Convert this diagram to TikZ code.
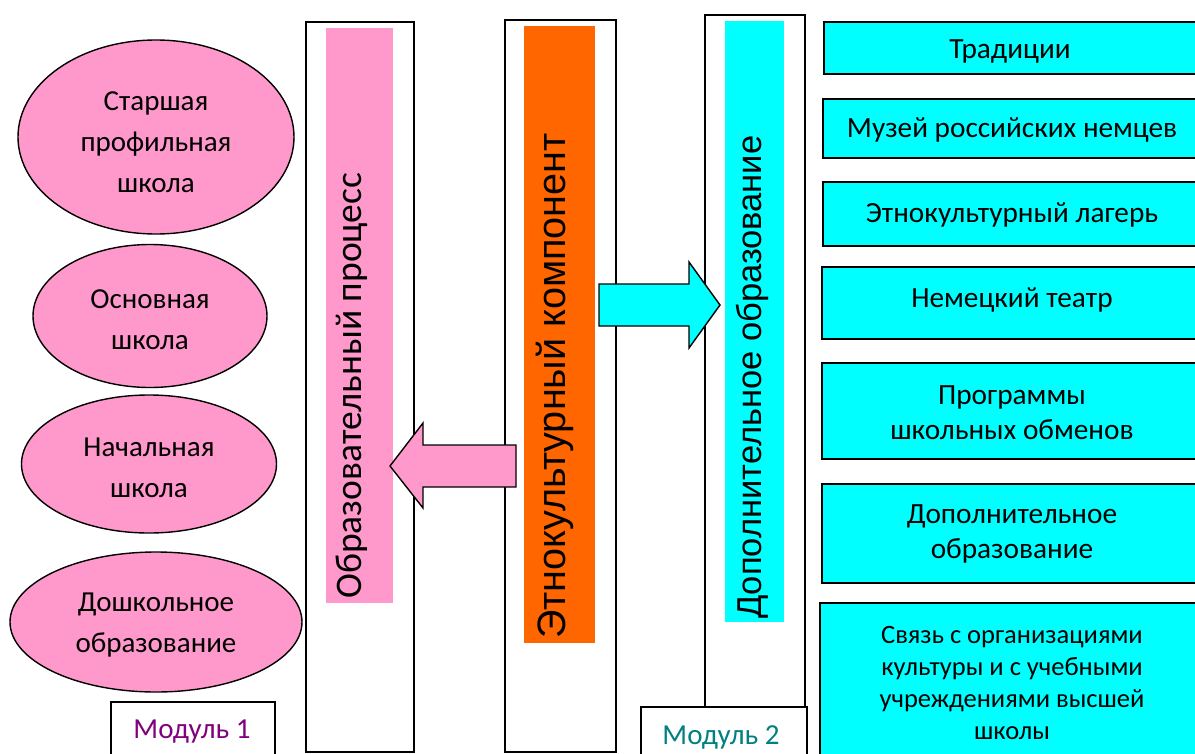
\documentclass[tikz,border=0pt]{standalone}
\usepackage{fontspec}
\setmainfont{Carlito}
\newfontfamily\arialf{Liberation Sans}
\usetikzlibrary{shapes.geometric}
\definecolor{pinkc}{HTML}{FF99CC}
\definecolor{orangec}{HTML}{FF6600}
\definecolor{cyanc}{HTML}{00FFFF}
\definecolor{purplec}{HTML}{800080}
\definecolor{tealc}{HTML}{008080}
\tikzset{
  ell/.style={ellipse, draw=black, line width=1.4pt, fill=pinkc, inner sep=0pt, align=center},
  elltext/.style={align=center, font=\fontsize{29}{41}\selectfont},
  frame/.style={rectangle, draw=black, line width=1.6pt, fill=white, anchor=north west, inner sep=0pt},
  bar/.style={rectangle, anchor=north west, inner sep=0pt},
  vtext/.style={rotate=90, anchor=west, inner sep=0pt},
  itembox/.style={rectangle, draw=black, line width=1.6pt, fill=cyanc, anchor=north west, inner sep=0pt},
  itemtext/.style={align=center, font=\fontsize{29.3}{35}\selectfont},
  modbox/.style={rectangle, draw=black, line width=1.6pt, fill=white, anchor=north west, inner sep=0pt},
  blockarrow/.style={draw=black, line width=1.4pt, line join=miter}
}
\begin{document}
\begin{tikzpicture}[x=1pt,y=-1pt]
\useasboundingbox (0,0) rectangle (1195,753);
\fill[white] (0,0) rectangle (1195,753);
\clip (0,0) rectangle (1195,753);

% ellipses (module 1)
\node[ell, minimum width=276, minimum height=194] (e1) at (156,137) {};
\node[elltext] (e1t) at (156,142) {Старшая\\профильная\\школа};
\node[ell, minimum width=234, minimum height=143] (e2) at (150,316) {};
\node[elltext] (e2t) at (150,320) {Основная\\школа};
\node[ell, minimum width=255, minimum height=138] (e3) at (149,464) {};
\node[elltext] (e3t) at (149,468) {Начальная\\школа};
\node[ell, minimum width=292, minimum height=140] (e4) at (156,622) {};
\node[elltext] (e4t) at (156,625) {Дошкольное\\образование};

% module labels
\node[modbox, minimum width=164, minimum height=70] (m1) at (110,701) {};
\node[text=purplec, font=\fontsize{29}{34}\selectfont] (m1t) at (192,732) {Модуль 1};

% frames
\node[frame, minimum width=108, minimum height=730] (f1) at (305,21) {};
\node[frame, minimum width=111, minimum height=732] (f2) at (504,19) {};
\node[frame, minimum width=100, minimum height=760] (f3) at (704,14) {};

% coloured bars
\node[bar, fill=pinkc, minimum width=67, minimum height=575] (b1) at (326,28) {};
\node[bar, fill=orangec, minimum width=71, minimum height=617] (b2) at (524,26) {};
\node[bar, fill=cyanc, minimum width=59, minimum height=601] (b3) at (725,21) {};

\node[vtext, font=\fontsize{37.5}{40}\selectfont] (t1) at (352,599) {Образовательный процесс};
\node[vtext, font=\arialf\fontsize{39.6}{42}\selectfont] (t2) at (555,639) {Этнокультурный компонент};
\node[vtext, font=\arialf\fontsize{34.5}{38}\selectfont] (t3) at (752,619) {Дополнительное образование};

% block arrows
\coordinate (la) at (516,466);
\coordinate (ra) at (599,305);
\draw[blockarrow, fill=pinkc] (la) ++(0,-21) -- ++(-93,0) -- ++(0,-22) -- ++(-33,43) -- ++(33,42) -- ++(0,-21) -- ++(93,0) -- cycle;
\draw[blockarrow, fill=cyanc] (ra) ++(0,-21) -- ++(90,0) -- ++(0,-22) -- ++(31,43) -- ++(-31,43) -- ++(0,-22) -- ++(-90,0) -- cycle;

% module 2
\node[modbox, minimum width=166, minimum height=70] (m2) at (640,706) {};
\node[text=tealc, font=\fontsize{29}{34}\selectfont] (m2t) at (721,737) {Модуль 2};

% right boxes
\node[itembox, minimum width=380, minimum height=52] (r1) at (823,21) {};
\node[itemtext] at (1010,52) {Традиции};
\node[itembox, minimum width=380, minimum height=59] (r2) at (822,98) {};
\node[itemtext] at (1012,130) {Музей российских немцев};
\node[itembox, minimum width=380, minimum height=64] (r3) at (822,181) {};
\node[itemtext] at (1012,215) {Этнокультурный лагерь};
\node[itembox, minimum width=380, minimum height=72] (r4) at (821,266) {};
\node[itemtext] at (1012,300) {Немецкий театр};
\node[itembox, minimum width=380, minimum height=96] (r5) at (821,362) {};
\node[itemtext] at (1012,413) {Программы\\школьных обменов};
\node[itembox, minimum width=380, minimum height=99] (r6) at (821,483) {};
\node[itemtext] at (1012,534) {Дополнительное\\образование};
\node[itembox, minimum width=380, minimum height=170] (r7) at (819,602) {};
\node[itemtext, font=\fontsize{26.5}{32}\selectfont] at (1012,683) {Связь с организациями\\культуры и с учебными\\учреждениями высшей\\школы};
\end{tikzpicture}
\end{document}
